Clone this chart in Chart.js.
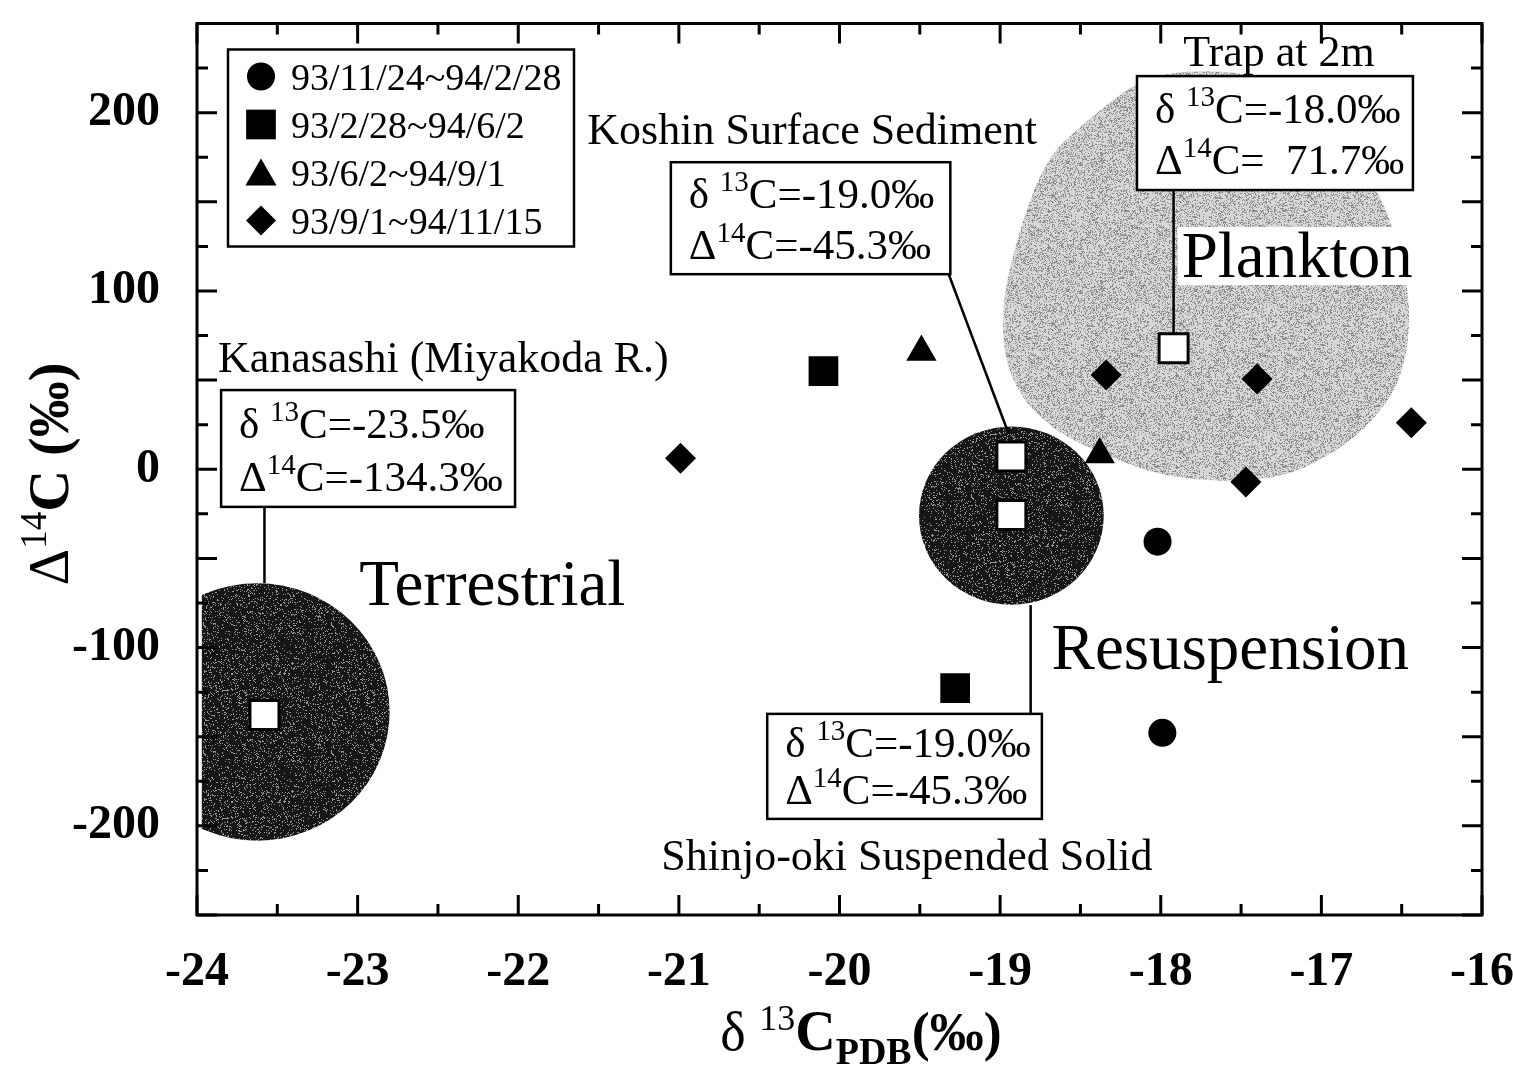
<!DOCTYPE html>
<html>
<head>
<meta charset="utf-8">
<script src="https://cdn.jsdelivr.net/npm/chart.js@4.4.1/dist/chart.umd.min.js"></script>
<style>
html,body{margin:0;padding:0;background:#fff;}
canvas{display:block;}
</style>
</head>
<body>
<canvas id="isoChart" width="1513" height="1073"></canvas>
<script>

// ==========================================
// DATA
// ==========================================

const periodLabels = ["93/11/24~94/2/28", "93/2/28~94/6/2", "93/6/2~94/9/1", "93/9/1~94/11/15"];

// trap samples, one pair of arrays per period
const d13cWinter = [-18.02, -17.99];
const d14cWinter = [-40.6, -147.8];

const d13cSpring = [-20.10, -19.28];
const d14cSpring = [55.0, -122.8];

const d13cSummer = [-19.49, -18.38];
const d14cSummer = [65.8, 8.3];

const d13cAutumn = [-20.99, -18.34, -17.40, -16.44, -17.47];
const d14cAutumn = [6.1, 52.8, 50.6, 26.1, -7.2];

// end members (open squares)
const d13cEnd = [-17.92, -18.93, -18.93, -23.58];
const d14cEnd = [67.8, 7.2, -25.6, -137.8];

// axes
const xMin = -24, xMax = -16, xStep = 0.5;
const yMin = -250, yMax = 250, yStep = 25;
const yLabelEvery = 100;

// source regions, in data units
const terrestrialCenter = [-23.625, -136.1];
const terrestrialRadius = [0.824, 72.2];
const terrestrialCut = -23.97;

const resuspCenter = [-18.93, -26.0];
const resuspRadius = [0.575, 50];

const planktonX = [-18.147, -17.854, -17.417, -16.979, -16.729, -16.561, -16.448, -16.461, -16.586,
                   -16.898, -17.310, -17.935, -18.354, -18.728, -18.959, -18.997, -18.872, -18.710, -18.497];
const planktonY = [217.8, 223.9, 222.2, 205.6, 169.4, 138.9, 100, 63.3, 35.6,
                   9.4, -7.2, -5.6, 7.8, 25, 52.8, 91.7, 137.2, 174.4, 192.8];


// ==========================================
// ANNOTATION LAYOUT (data units)
// ==========================================

const FONT = "'Liberation Serif', 'Times New Roman', serif";

const callouts = [
    { box: [-23.85, 44.4, -22.02, -21.1], lines: [["δ", " ", "13", "C=-23.5‰"], ["Δ", "", "14", "C=-134.3‰"]],
      title: "Kanasashi (Miyakoda R.)", titleAt: [-23.87, 54.4],
      lead: [[-23.58, -21.1], [-23.58, -63.9]] },
    { box: [-21.05, 172.2, -19.31, 109.4], lines: [["δ", " ", "13", "C=-19.0‰"], ["Δ", "", "14", "C=-45.3‰"]],
      title: "Koshin Surface Sediment", titleAt: [-21.57, 182.2],
      lead: [[-19.32, 109.4], [-18.95, 20.6]] },
    { box: [-18.148, 220.5, -16.43, 156.6], lines: [["δ", " ", "13", "C=-18.0‰"], ["Δ", "", "14", "C=  71.7‰"]],
      title: "Trap at 2m", titleAt: [-17.86, 226],
      lead: [[-17.92, 156.6], [-17.92, 75]] },
    { box: [-20.45, -137.2, -18.74, -196.1], lines: [["δ", " ", "13", "C=-19.0‰"], ["Δ", "", "14", "C=-45.3‰"]],
      title: "Shinjo-oki Suspended Solid", titleAt: [-21.11, -225],
      lead: [[-18.81, -76.2], [-18.81, -137.2]] }
];

const regionLabels = [
    { text: "Terrestrial", at: [-22.99, -76.1], white: false },
    { text: "Plankton", at: [-17.87, 107.8], white: true },
    { text: "Resuspension", at: [-18.68, -112.2], white: false }
];


// ==========================================
// TEXTURES
// ==========================================

function makeTexture(base, dot, share, seed){

    const c = document.createElement("canvas");
    c.width = 128; c.height = 128;
    const g = c.getContext("2d");
    const img = g.createImageData(128, 128);
    let s = seed >>> 0;

    for(let i = 0; i < 128 * 128; i++){
        s = (Math.imul(s, 1103515245) + 12345) >>> 0;
        const v = ((s >>> 16) / 65536) < share ? dot : base;
        img.data[i * 4] = v;
        img.data[i * 4 + 1] = v;
        img.data[i * 4 + 2] = v;
        img.data[i * 4 + 3] = 255;
    }

    g.putImageData(img, 0, 0);
    return c;
}

const darkTexture = makeTexture(22, 150, 0.13, 7);
const lightTexture = makeTexture(215, 140, 0.3, 11);


// ==========================================
// HELPERS
// ==========================================

function font(size, bold){
    return (bold ? "bold " : "") + size + "px " + FONT;
}

// parts: [text, size, bold, dy]
function richText(ctx, x, y, parts, align){

    let w = 0;
    parts.forEach(p => { ctx.font = font(p[1], p[2]); w += ctx.measureText(p[0]).width; });

    let cx = align === "center" ? x - w / 2 : x;

    parts.forEach(p => {
        ctx.font = font(p[1], p[2]);
        ctx.fillText(p[0], cx, y + p[3]);
        cx += ctx.measureText(p[0]).width;
    });
}

function smoothClosed(ctx, pts){

    const n = pts.length;
    const mid = (a, b) => [(a[0] + b[0]) / 2, (a[1] + b[1]) / 2];
    const m0 = mid(pts[n - 1], pts[0]);

    ctx.moveTo(m0[0], m0[1]);

    for(let i = 0; i < n; i++){
        const q = mid(pts[i], pts[(i + 1) % n]);
        ctx.quadraticCurveTo(pts[i][0], pts[i][1], q[0], q[1]);
    }

    ctx.closePath();
}


// ==========================================
// PLUGIN: regions, callouts, frame, legend
// ==========================================

const figurePlugin = {

    id: "figure",

    beforeDatasetsDraw(chart){

        const ctx = chart.ctx;
        const sx = chart.scales.x, sy = chart.scales.y;
        const X = v => sx.getPixelForValue(v);
        const Y = v => sy.getPixelForValue(v);
        const a = chart.chartArea;

        ctx.save();
        ctx.beginPath();
        ctx.rect(a.left, a.top, a.right - a.left, a.bottom - a.top);
        ctx.clip();

        // plankton blob
        const pts = planktonX.map((v, i) => [X(v), Y(planktonY[i])]);
        ctx.beginPath();
        smoothClosed(ctx, pts);
        ctx.fillStyle = ctx.createPattern(lightTexture, "repeat");
        ctx.fill();

        // terrestrial (left side cut flat)
        ctx.save();
        ctx.beginPath();
        ctx.rect(X(terrestrialCut), a.top, a.right - X(terrestrialCut), a.bottom - a.top);
        ctx.clip();
        ctx.beginPath();
        ctx.ellipse(X(terrestrialCenter[0]), Y(terrestrialCenter[1]),
            X(terrestrialCenter[0] + terrestrialRadius[0]) - X(terrestrialCenter[0]),
            Y(terrestrialCenter[1]) - Y(terrestrialCenter[1] + terrestrialRadius[1]), 0, 0, Math.PI * 2);
        ctx.fillStyle = ctx.createPattern(darkTexture, "repeat");
        ctx.fill();
        ctx.restore();

        // resuspension disc
        ctx.beginPath();
        ctx.ellipse(X(resuspCenter[0]), Y(resuspCenter[1]),
            X(resuspCenter[0] + resuspRadius[0]) - X(resuspCenter[0]),
            Y(resuspCenter[1]) - Y(resuspCenter[1] + resuspRadius[1]), 0, 0, Math.PI * 2);
        ctx.fillStyle = ctx.createPattern(darkTexture, "repeat");
        ctx.fill();

        ctx.restore();

        // callouts
        ctx.save();
        ctx.strokeStyle = "#000";
        ctx.fillStyle = "#000";
        ctx.lineWidth = 2.5;
        ctx.textBaseline = "alphabetic";

        callouts.forEach(c => {

            ctx.beginPath();
            ctx.moveTo(X(c.lead[0][0]), Y(c.lead[0][1]));
            ctx.lineTo(X(c.lead[1][0]), Y(c.lead[1][1]));
            ctx.stroke();

            const x0 = X(c.box[0]), y0 = Y(c.box[1]), x1 = X(c.box[2]), y1 = Y(c.box[3]);
            ctx.fillStyle = "#fff";
            ctx.fillRect(x0, y0, x1 - x0, y1 - y0);
            ctx.strokeRect(x0, y0, x1 - x0, y1 - y0);

            ctx.fillStyle = "#000";
            const h = y1 - y0;
            c.lines.forEach((ln, i) => {
                richText(ctx, x0 + 18, y0 + h * (i === 0 ? 0.41 : 0.86), [
                    [ln[0], 43, false, 0],
                    [ln[1], 43, false, 0],
                    [ln[2], 29, false, -17],
                    [ln[3], 43, false, 0]
                ]);
            });

            ctx.font = font(44, false);
            ctx.fillText(c.title, X(c.titleAt[0]), Y(c.titleAt[1]));
        });

        // big region names
        regionLabels.forEach(r => {
            ctx.font = font(65, false);
            const x = X(r.at[0]), y = Y(r.at[1]);
            if(r.white){
                const w = ctx.measureText(r.text).width;
                ctx.fillStyle = "#fff";
                ctx.fillRect(x - 4, y - 50, w + 8, 58);
            }
            ctx.fillStyle = "#000";
            ctx.fillText(r.text, x, y);
        });

        ctx.restore();
    },

    afterDraw(chart){

        const ctx = chart.ctx;
        const sx = chart.scales.x, sy = chart.scales.y;
        const X = v => sx.getPixelForValue(v);
        const Y = v => sy.getPixelForValue(v);
        const a = chart.chartArea;

        ctx.save();
        ctx.strokeStyle = "#000";
        ctx.lineWidth = 3;

        // ticks on all four sides, pointing in
        ctx.beginPath();
        sy.ticks.forEach(t => {
            const len = t.value % 50 === 0 ? 20 : 11;
            const y = Y(t.value);
            ctx.moveTo(a.left, y); ctx.lineTo(a.left + len, y);
            ctx.moveTo(a.right, y); ctx.lineTo(a.right - len, y);
        });
        sx.ticks.forEach(t => {
            const len = Number.isInteger(t.value) ? 20 : 11;
            const x = X(t.value);
            ctx.moveTo(x, a.bottom); ctx.lineTo(x, a.bottom - len);
            ctx.moveTo(x, a.top); ctx.lineTo(x, a.top + len);
        });
        ctx.stroke();

        ctx.strokeRect(a.left, a.top, a.right - a.left, a.bottom - a.top);

        // legend
        const lx0 = a.left + 31, ly0 = a.top + 26;
        ctx.lineWidth = 2.5;
        ctx.fillStyle = "#fff";
        ctx.fillRect(lx0, ly0, 346, 197);
        ctx.strokeRect(lx0, ly0, 346, 197);

        const styles = [["circle", 14], ["rect", 21], ["triangle", 18], ["rectRot", 15]];
        ctx.fillStyle = "#000";
        periodLabels.forEach((lab, i) => {
            const cy = ly0 + 27 + i * 48;
            Chart.helpers.drawPoint(ctx, { pointStyle: styles[i][0], radius: styles[i][1], rotation: 0, borderWidth: 0 },
                lx0 + 33, cy + (styles[i][0] === "triangle" ? 4 : 0));
            ctx.fillStyle = "#000";
            ctx.font = font(38, false);
            ctx.textBaseline = "alphabetic";
            ctx.fillText(lab, lx0 + 63, cy + 13);
        });

        // axis titles
        ctx.fillStyle = "#000";
        ctx.textBaseline = "alphabetic";
        richText(ctx, 861, 1050, [
            ["δ", 54, false, 0],
            [" ", 54, false, 0],
            ["13", 36, false, -20],
            ["C", 56, true, 0],
            ["PDB", 38, true, 14],
            ["(‰)", 54, true, 0]
        ], "center");

        ctx.translate(68, 474);
        ctx.rotate(-Math.PI / 2);
        richText(ctx, 0, 0, [
            ["Δ", 57, false, 0],
            ["14", 37, false, -22],
            ["C", 58, true, 0],
            [" (‰)", 56, true, 0]
        ], "center");

        ctx.restore();
    }
};


// ==========================================
// CHART
// ==========================================

const tickFont = { family: FONT, size: 48, weight: "bold" };

const chart = new Chart(document.getElementById("isoChart").getContext("2d"), {

    type: "scatter",

    data: {
        datasets: [
            { label: periodLabels[0], data: d13cWinter.map((v, i) => ({ x: v, y: d14cWinter[i] })),
              pointStyle: "circle", pointRadius: 14, backgroundColor: "#000", borderColor: "#000", borderWidth: 0 },
            { label: periodLabels[1], data: d13cSpring.map((v, i) => ({ x: v, y: d14cSpring[i] })),
              pointStyle: "rect", pointRadius: 21, backgroundColor: "#000", borderColor: "#000", borderWidth: 0 },
            { label: periodLabels[2], data: d13cSummer.map((v, i) => ({ x: v, y: d14cSummer[i] })),
              pointStyle: "triangle", pointRadius: 17.5, backgroundColor: "#000", borderColor: "#000", borderWidth: 0 },
            { label: periodLabels[3], data: d13cAutumn.map((v, i) => ({ x: v, y: d14cAutumn[i] })),
              pointStyle: "rectRot", pointRadius: 15.5, backgroundColor: "#000", borderColor: "#000", borderWidth: 0 },
            { label: "end members", data: d13cEnd.map((v, i) => ({ x: v, y: d14cEnd[i] })),
              pointStyle: "rect", pointRadius: 20.5, backgroundColor: "#fff", borderColor: "#000", borderWidth: 3 }
        ]
    },

    options: {
        responsive: false,
        animation: false,
        devicePixelRatio: 1,
        layout: { padding: { left: 0, top: 18, right: 31, bottom: 0 } },
        plugins: {
            legend: { display: false },
            tooltip: { enabled: false }
        },
        scales: {
            x: {
                type: "linear",
                min: xMin, max: xMax,
                grid: { display: false, drawTicks: false },
                border: { display: false },
                ticks: {
                    stepSize: xStep, autoSkip: false, maxRotation: 0, padding: 29,
                    color: "#000", font: tickFont,
                    callback: v => Number.isInteger(v) ? String(v) : ""
                },
                afterFit: s => { s.height = 158; s.paddingLeft = 0; s.paddingRight = 0; }
            },
            y: {
                type: "linear",
                min: yMin, max: yMax,
                grid: { display: false, drawTicks: false },
                border: { display: false },
                ticks: {
                    stepSize: yStep, autoSkip: false, padding: 37,
                    color: "#000", font: tickFont,
                    callback: v => v % yLabelEvery === 0 ? String(v) : ""
                },
                afterFit: s => { s.width = 197; s.paddingTop = 0; s.paddingBottom = 0; }
            }
        }
    },

    plugins: [figurePlugin]
});

</script>
</body>
</html>
